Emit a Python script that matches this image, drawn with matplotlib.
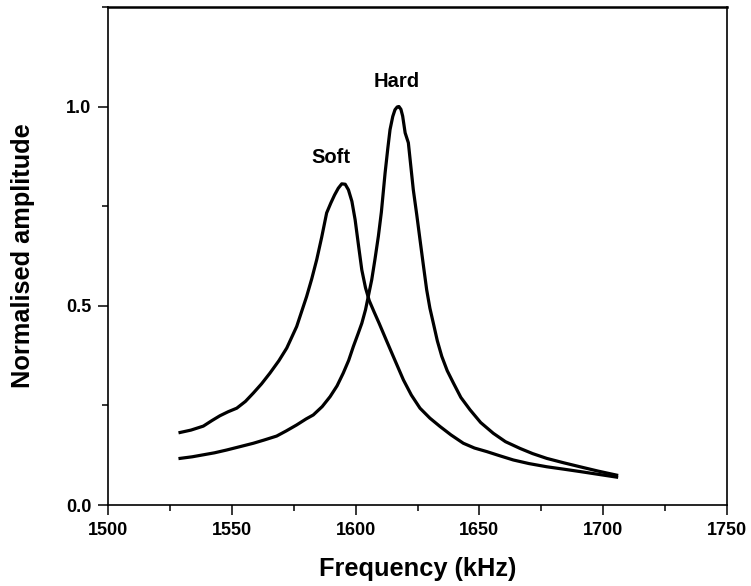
import matplotlib
matplotlib.use("Agg")
import matplotlib.pyplot as plt
from matplotlib.ticker import MultipleLocator, FormatStrFormatter

plt.rcParams['font.family'] = ['Liberation Sans', 'DejaVu Sans']
plt.rcParams['font.weight'] = 'bold'

# Soft cantilever resonance
soft_f = [1529.1, 1533.5, 1538.5, 1542.0, 1545.2, 1548.5, 1552.0, 1555.5, 1558.7, 1562.0,
          1565.4, 1569.0, 1572.2, 1576.2, 1580.2, 1582.3, 1584.3, 1586.3, 1588.3, 1590.0,
          1591.5, 1593.0, 1594.4, 1595.8, 1597.1, 1598.5, 1599.8, 1601.2, 1602.5, 1604.0,
          1605.5, 1607.5, 1609.5, 1612.3, 1615.2, 1619.3, 1622.5, 1626.0, 1630.0, 1634.1,
          1638.5, 1643.5, 1648.0, 1653.0, 1658.0, 1663.7, 1670.0, 1677.2, 1684.0, 1690.6,
          1698.0, 1705.4]
soft_a = [0.182, 0.188, 0.198, 0.212, 0.224, 0.234, 0.243, 0.260, 0.281, 0.304,
          0.331, 0.362, 0.394, 0.448, 0.523, 0.568, 0.616, 0.672, 0.733, 0.758,
          0.778, 0.795, 0.806, 0.805, 0.791, 0.762, 0.716, 0.650, 0.590, 0.545,
          0.513, 0.484, 0.456, 0.415, 0.373, 0.314, 0.276, 0.243, 0.218, 0.197,
          0.176, 0.155, 0.143, 0.134, 0.124, 0.113, 0.104, 0.096, 0.090, 0.084,
          0.077, 0.070]

# Hard cantilever resonance
hard_f = [1529.1, 1534.0, 1538.5, 1543.0, 1547.9, 1553.0, 1558.7, 1563.0, 1568.1, 1572.0,
          1576.2, 1580.0, 1582.9, 1586.5, 1589.7, 1592.5, 1595.0, 1597.2, 1599.1, 1601.0,
          1602.5, 1604.0, 1605.1, 1606.5, 1607.8, 1609.2, 1610.4, 1611.9, 1613.0, 1613.9,
          1615.0, 1615.9, 1616.8, 1617.5, 1618.3, 1619.0, 1620.0, 1621.3, 1622.3, 1623.3,
          1624.7, 1626.0, 1627.4, 1628.7, 1630.0, 1631.4, 1633.0, 1634.8, 1637.0, 1639.5,
          1642.5, 1646.2, 1650.5, 1655.6, 1660.5, 1666.4, 1671.5, 1677.2, 1684.0, 1690.6,
          1698.0, 1705.4]
hard_a = [0.117, 0.121, 0.126, 0.131, 0.138, 0.146, 0.155, 0.163, 0.173, 0.186,
          0.201, 0.216, 0.226, 0.247, 0.272, 0.299, 0.331, 0.363, 0.398, 0.430,
          0.456, 0.490, 0.523, 0.565, 0.616, 0.675, 0.735, 0.833, 0.895, 0.942,
          0.975, 0.992, 0.999, 1.000, 0.993, 0.976, 0.934, 0.909, 0.850, 0.791,
          0.728, 0.666, 0.600, 0.540, 0.494, 0.456, 0.412, 0.373, 0.337, 0.306,
          0.270, 0.239, 0.207, 0.180, 0.159, 0.142, 0.129, 0.117, 0.106, 0.096,
          0.085, 0.075]

labels = [("Soft", 1590, 0.872), ("Hard", 1616.5, 1.063)]

fig = plt.figure(figsize=(7.51, 5.86), dpi=100)
ax = fig.add_axes([0.1438, 0.1382, 0.8243, 0.850])

ax.plot(soft_f, soft_a, color='black', lw=2.3, solid_joinstyle='round')
ax.plot(hard_f, hard_a, color='black', lw=2.3, solid_joinstyle='round')
for txt, x, y in labels:
    ax.text(x, y, txt, ha='center', va='center', fontsize=14.5, fontweight='bold')

ax.set_xlim(1500, 1750)
ax.set_ylim(0, 1.25)
ax.xaxis.set_major_locator(MultipleLocator(50))
ax.xaxis.set_minor_locator(MultipleLocator(25))
ax.yaxis.set_major_locator(MultipleLocator(0.5))
ax.yaxis.set_minor_locator(MultipleLocator(0.25))
ax.yaxis.set_major_formatter(FormatStrFormatter('%.1f'))
ax.tick_params(which='major', direction='out', length=7, width=1.1, labelsize=13, pad=5)
ax.tick_params(which='minor', direction='out', length=4, width=1.1)
ax.tick_params(top=False, right=False, which='both')
for lab in ax.get_xticklabels() + ax.get_yticklabels():
    lab.set_fontweight('bold')
for s in ax.spines.values():
    s.set_linewidth(1.2)
ax.spines['top'].set_linewidth(1.8)

ax.set_xlabel('Frequency (kHz)', fontsize=18.3, fontweight='bold', labelpad=13)
ax.set_ylabel('Normalised amplitude', fontsize=18.3, fontweight='bold', labelpad=22)

fig.savefig('out.png', dpi=100)
